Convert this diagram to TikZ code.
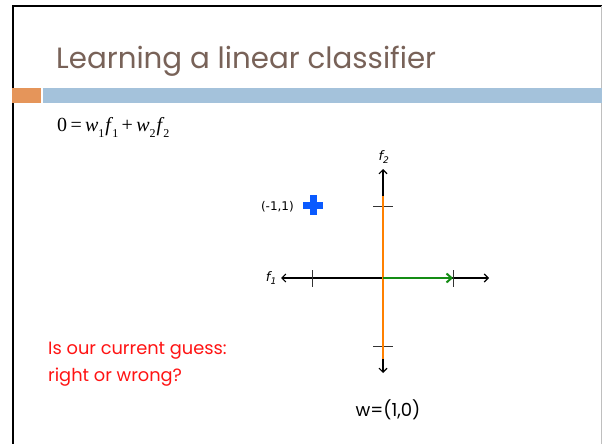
\documentclass[tikz,border=0pt]{standalone}
\usepackage{fontspec}
\setmainfont{Liberation Serif}
\newfontfamily\slidefont{Poppins}
\newfontfamily\axfont{DejaVu Sans}
\usetikzlibrary{arrows.meta}
\definecolor{titlecol}{RGB}{120,98,88}
\definecolor{barorange}{RGB}{229,149,90}
\definecolor{barblue}{RGB}{164,194,219}
\definecolor{lineorange}{RGB}{255,128,0}
\definecolor{vecgreen}{RGB}{20,140,20}
\definecolor{plusblue}{RGB}{10,90,255}
\definecolor{askred}{RGB}{255,20,20}
\newcommand{\lowsub}[1]{\raisebox{-0.3em}{\fontsize{12}{12}\selectfont #1}}
\tikzset{
  axis/.style={line width=1.1pt, -{Straight Barb[length=4pt,width=8pt]}},
  tick/.style={line width=0.8pt, black!80},
  lbl/.style={inner sep=0pt, font=\slidefont},
}
\begin{document}
\begin{tikzpicture}[x=1pt,y=-1pt]
\useasboundingbox (0,0) rectangle (602,444);
\fill[white] (0,0) rectangle (602,444);
% frame
\draw[line width=2pt] (12.5,444) -- (12.5,6) -- (602,6);
\draw[line width=1pt, black!25] (601.5,6) -- (601.5,444);
% bars
\fill[barorange] (12,88) rectangle (41,103);
\fill[barblue] (43,88) rectangle (602,103);
% title
\node[lbl, anchor=base west, text=titlecol, font=\slidefont\fontsize{29.3}{32}\selectfont] (title) at (56,68) {Learning a linear classifier};
% equation
\node[inner sep=0pt, anchor=base west, font=\fontsize{20}{22}\selectfont] (eq) at (57,131) {0\,=\,\textit{w}\lowsub{1}\kern1pt\textit{f}\kern-1pt\lowsub{1}\,+\,\textit{w}\lowsub{2}\kern1pt\textit{f}\kern-1pt\lowsub{2}};
% axes coordinates
\coordinate (O) at (383,278);
\coordinate (L) at (281,278);
\coordinate (R) at (489,278);
\coordinate (T) at (383,169);
\coordinate (B) at (383,373);
\coordinate (OT) at (383,196);
\coordinate (OB) at (383,359);
\coordinate (W) at (453,278);
% axes
\draw[axis] (O) -- (L);
\draw[axis] (O) -- (R);
\draw[axis] (OT) -- (T);
\draw[axis] (OB) -- (B);
% ticks
\draw[tick] (312,270) -- (312,287);
\draw[tick] (453,270) -- (453,287);
\draw[tick] (373,206) -- (393,206);
\draw[tick] (373,346) -- (393,346);
% decision boundary
\draw[lineorange, line width=2.4pt] (OT) -- (OB);
% weight vector
\draw[vecgreen, line width=2pt, -{Straight Barb[length=5pt,width=9pt]}] (O) -- (W);
% labels
\node[inner sep=0pt, font=\axfont\itshape\fontsize{13}{13}\selectfont] (f2) at (384,157) {f\textsubscript{2}};
\node[inner sep=0pt, anchor=east, font=\axfont\itshape\fontsize{13}{13}\selectfont] (f1) at (277,278) {f\textsubscript{1}};
\node[inner sep=0pt, anchor=east, font=\axfont\fontsize{12}{12}\selectfont] (pt) at (294,207) {(-1,1)};
% plus
\fill[plusblue] (303,201.5) rectangle (323,208.5);
\fill[plusblue] (309.5,195) rectangle (316.5,215);
\coordinate (plus) at (313,205);
% weight text
\node[lbl, anchor=base, font=\slidefont\fontsize{18}{20}\selectfont] (wtxt) at (388,416) {w=(1,0)};
% question
\node[lbl, anchor=base west, align=left, text=askred, font=\slidefont\fontsize{17.8}{27}\selectfont] (q) at (48,381) {Is our current guess:\\right or wrong?};
\end{tikzpicture}
\end{document}
